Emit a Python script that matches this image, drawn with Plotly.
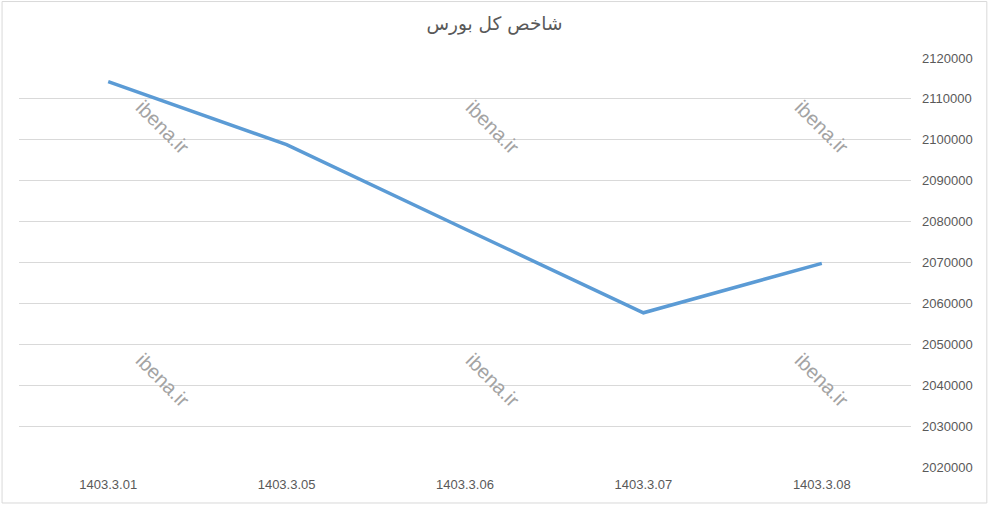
import plotly.graph_objects as go

# Tehran stock exchange total index (TEDPIX)
dates = ["1403.3.01", "1403.3.05", "1403.3.06", "1403.3.07", "1403.3.08"]
index_values = [2114200, 2098800, 2078200, 2057700, 2069800]

y_ticks = list(range(2020000, 2120001, 10000))
title_text = "شاخص کل بورس"
watermark = "ibena.ir"

fig = go.Figure()
fig.add_trace(go.Scatter(
    x=dates,
    y=index_values,
    mode="lines",
    line=dict(color="#5B9BD5", width=3.5),
    showlegend=False,
))

# watermark text in paper coordinates (two rows of three)
for wx in [0.161, 0.531, 0.900]:
    for wy in [0.832, 0.213]:
        fig.add_annotation(
            x=wx, y=wy, xref="paper", yref="paper",
            xanchor="center", yanchor="middle",
            text=watermark, showarrow=False, textangle=45,
            font=dict(family="Liberation Sans, Arial", size=20, color="#a3a3a3"),
        )

# light frame round the whole chart
fig.add_shape(
    type="rect", xref="paper", yref="paper",
    x0=-0.019, x1=1.085, y0=-0.088, y1=1.138,
    line=dict(color="#d9d9d9", width=1),
)

fig.update_layout(
    width=989,
    height=508,
    margin=dict(l=19, r=78, t=58, b=41),
    paper_bgcolor="white",
    plot_bgcolor="white",
    title=dict(
        text=title_text, x=0.5, xref="container", xanchor="center",
        y=0.953, yanchor="middle",
        font=dict(family="DejaVu Sans", size=18.5, color="#595959"),
    ),
    font=dict(family="Liberation Sans, Arial", size=13, color="#595959"),
)
fig.update_xaxes(
    type="category",
    range=[-0.5, 4.5],
    showgrid=False,
    showline=False,
    ticks="",
    ticklabelstandoff=8,
    tickfont=dict(size=13, color="#595959"),
)
fig.update_yaxes(
    side="right",
    range=[2020000, 2120000],
    tickvals=y_ticks,
    tickformat="d",
    showgrid=True,
    gridcolor="#d9d9d9",
    gridwidth=1,
    zeroline=False,
    showline=False,
    ticks="",
    ticklabelstandoff=10,
    tickfont=dict(size=13, color="#595959"),
)

# drop the browser's default body margin so the chart sits at the page corner
fig.write_html(
    "out.html",
    config={"displayModeBar": False},
    post_script="document.body.style.margin='0';",
)
